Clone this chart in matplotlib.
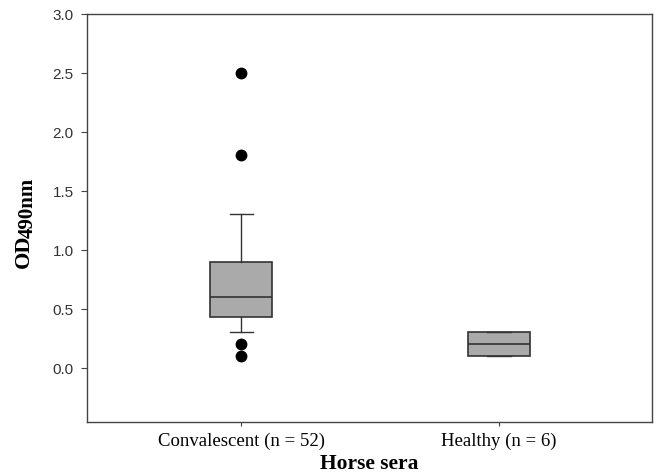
import matplotlib
matplotlib.use("Agg")
import matplotlib.pyplot as plt

# ------------------------------
# Data
# ------------------------------
groups = ["Convalescent (n = 52)", "Healthy (n = 6)"]
q1 = [0.43, 0.10]
median = [0.60, 0.20]
q3 = [0.90, 0.30]
whislo = [0.30, 0.10]
whishi = [1.30, 0.30]
outliers = [[2.50, 1.80, 0.20, 0.10], []]
yticks = [0.0, 0.5, 1.0, 1.5, 2.0, 2.5, 3.0]

stats = []
for i, g in enumerate(groups):
    stats.append(dict(label=g, q1=q1[i], med=median[i], q3=q3[i],
                      whislo=whislo[i], whishi=whishi[i], fliers=outliers[i]))

fig = plt.figure(figsize=(6.6, 4.77), dpi=100)
ax = fig.add_axes([0.132, 0.113, 0.856, 0.856])

edge = "#333333"
ax.bxp(stats, positions=[1, 2], widths=0.24, patch_artist=True,
       boxprops=dict(facecolor="#aaaaaa", edgecolor=edge, linewidth=1.2),
       medianprops=dict(color=edge, linewidth=1.2),
       whiskerprops=dict(color=edge, linewidth=1.0),
       capprops=dict(color=edge, linewidth=1.0),
       capwidths=0.09,
       flierprops=dict(marker="o", markerfacecolor="black",
                       markeredgecolor="black", markersize=7.5))

ax.set_xlim(0.403, 2.593)
ax.set_ylim(-0.46, 3.0)
ax.set_yticks(yticks)
ax.set_yticklabels([f"{v:.1f}" for v in yticks], family="Liberation Sans",
                   fontsize=11, color="#333333")
ax.set_xticks([1, 2])
ax.set_xticklabels(groups, family="Liberation Serif", fontsize=13.5)

for s in ax.spines.values():
    s.set_color("#444444")
    s.set_linewidth(1.0)
ax.tick_params(axis="y", direction="out", length=4.3, pad=5.5, color="#444444")
ax.tick_params(axis="x", direction="out", length=3, pad=4, color="#444444")

ax.set_xlabel("Horse sera", family="Liberation Serif", fontweight="bold",
              fontsize=15.5, labelpad=3)

# y label: "OD" with a large subscript "490nm"
od = fig.text(14 / 660, 1 - 268 / 477, "OD", rotation=90, ha="left", va="bottom",
              family="Liberation Serif", fontweight="bold", fontsize=16)
ax.annotate("490nm", xy=(0, 1), xycoords=od, xytext=(4, -4),
            textcoords="offset pixels", rotation=90, ha="left", va="bottom",
            family="Liberation Serif", fontweight="bold", fontsize=15,
            annotation_clip=False)

fig.savefig("out.png", dpi=100)
